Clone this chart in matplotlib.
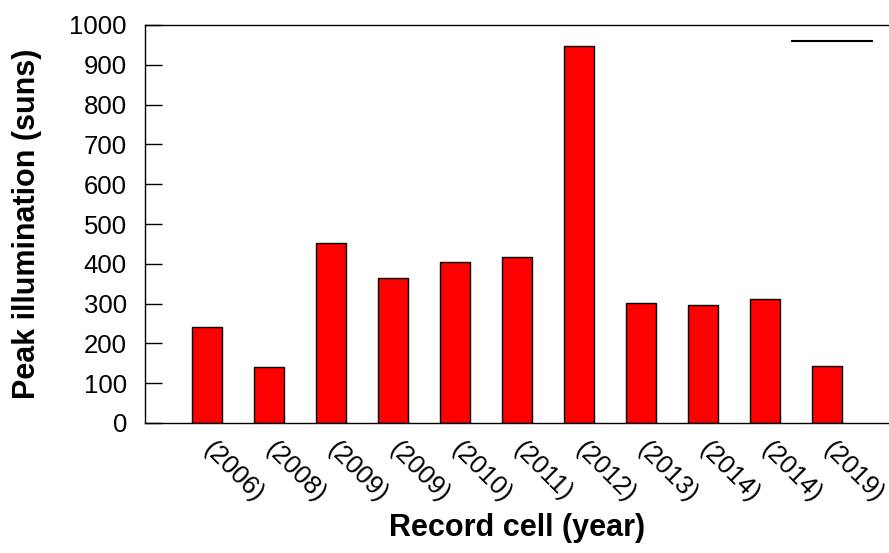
import matplotlib
matplotlib.use('Agg')
import matplotlib.pyplot as plt
from matplotlib.lines import Line2D

#______________________________DATA____________________________________________
years = ['(2006)', '(2008)', '(2009)', '(2009)', '(2010)', '(2011)',
         '(2012)', '(2013)', '(2014)', '(2014)', '(2019)']
peak_suns = [240, 140, 453, 364, 405, 418, 948, 302, 297, 312, 142]

#______________________________PLOT____________________________________________
plt.rcParams['font.family'] = ['Liberation Sans', 'DejaVu Sans']

fig = plt.figure(figsize=(8.89, 5.53), dpi=100)
ax = fig.add_axes([145/889, 1-423/553, 1-145/889, (423-25)/553])

pos = list(range(1, len(peak_suns)+1))
ax.bar(pos, peak_suns, width=0.47, color='#ff0000', edgecolor='black', linewidth=1)

ax.set_xlim(0, 12)
ax.set_ylim(0, 1000)
ax.set_yticks(range(0, 1001, 100))
ax.tick_params(axis='y', direction='in', length=12, width=1, labelsize=18.5, pad=13)
ax.tick_params(axis='x', length=0, labelsize=18.5, pad=16)
ax.set_xticks(pos)
ax.set_xticklabels(years, rotation=-45, ha='left', va='center', rotation_mode='anchor')

ax.spines['right'].set_visible(False)
for s in ['left', 'top', 'bottom']:
    ax.spines[s].set_linewidth(1)

ax.set_ylabel('Peak illumination (suns)', fontsize=22, fontweight='bold', labelpad=20)
ax.set_xlabel('Record cell (year)', fontsize=22, fontweight='bold', labelpad=5)

# empty legend entry, just the line
ax.legend(handles=[Line2D([], [], color='black', linewidth=1.5)], labels=[''],
          frameon=False, loc='center right', bbox_to_anchor=(0.977, 0.955),
          handlelength=3.2, handletextpad=0, borderpad=0, borderaxespad=0, fontsize=18)

fig.savefig('out.png', dpi=100)
